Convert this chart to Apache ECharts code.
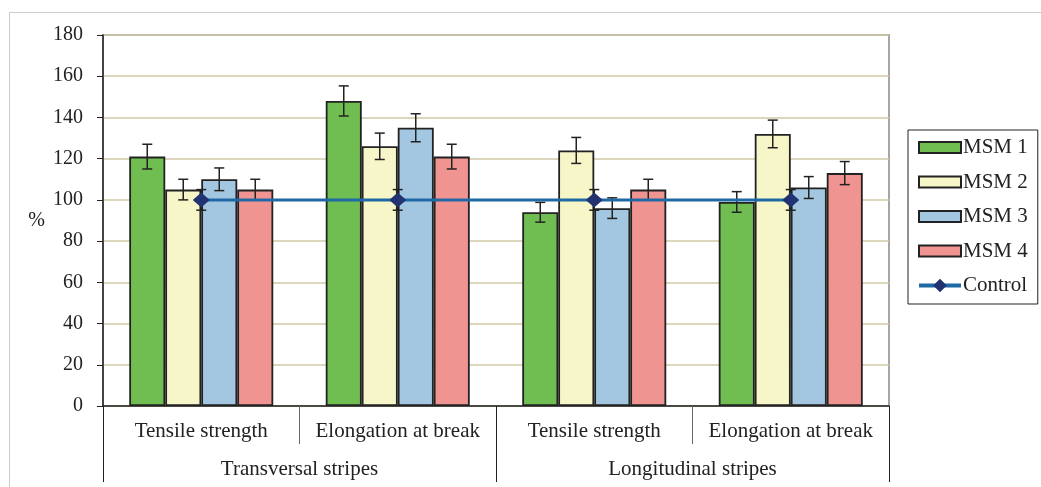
<!DOCTYPE html>
<html>
<head>
<meta charset="utf-8">
<script src="https://cdn.jsdelivr.net/npm/echarts@6/dist/echarts.min.js"></script>
<style>
  html, body { margin: 0; padding: 0; background: #fff; }
  #chart { width: 1041px; height: 487px; }
</style>
</head>
<body>
<div id="chart"></div>
<script>
// categories
const categories = ['Tensile strength', 'Elongation at break', 'Tensile strength', 'Elongation at break']
const groups = ['Transversal stripes', 'Longitudinal stripes']
const seriesNames = ['MSM 1', 'MSM 2', 'MSM 3', 'MSM 4']

// values (%) and error bar half-widths
const msm1 = [121, 148, 94, 99]
const msm2 = [105, 126, 124, 132]
const msm3 = [110, 135, 96, 106]
const msm4 = [105, 121, 105, 113]
const msm1Err = [6, 7.3, 4.8, 5]
const msm2Err = [5, 6.4, 6.3, 6.7]
const msm3Err = [5.5, 6.8, 5, 5.3]
const msm4Err = [5, 6, 5, 5.6]
const control = [100, 100, 100, 100]
const controlErr = [5, 5, 5, 5]

const barColors = ['#70be52', '#f7f6c8', '#a4c7e1', '#f09491']
const barW = 36
const font = 'Liberation Serif'
// legend box icon, kept at 42x11 inside the taller legend slot
const rectIcon = 'path://M0,0h42v11h-42z'

const chart = echarts.init(document.getElementById('chart'))

// error bars drawn as custom series, shifted onto each bar
const errorSeries = (values, errs, offset) => ({
  type: 'custom',
  z: 3,
  silent: true,
  renderItem: (params, api) => {
    const x = api.value(0)
    const v = api.value(1)
    const e = api.value(2)
    const hi = api.coord([x, v + e])
    const lo = api.coord([x, v - e])
    const cx = hi[0] + offset
    const cap = 5
    const style = { stroke: '#222', lineWidth: 1.5 }
    return {
      type: 'group',
      children: [
        { type: 'line', shape: { x1: cx, y1: hi[1], x2: cx, y2: lo[1] }, style },
        { type: 'line', shape: { x1: cx - cap, y1: hi[1], x2: cx + cap, y2: hi[1] }, style },
        { type: 'line', shape: { x1: cx - cap, y1: lo[1], x2: cx + cap, y2: lo[1] }, style }
      ]
    }
  },
  data: values.map((v, i) => [i, v, errs[i]])
})

const barValues = [msm1, msm2, msm3, msm4]
const barErrs = [msm1Err, msm2Err, msm3Err, msm4Err]

const barSeries = barValues.map((vals, i) => ({
  name: seriesNames[i],
  type: 'bar',
  barWidth: barW,
  barGap: '0%',
  itemStyle: {
    color: barColors[i],
    borderColor: '#222',
    borderWidth: 1.8
  },
  data: vals
}))

const option = {
  backgroundColor: '#fff',
  animation: false,
  textStyle: { fontFamily: font },
  graphic: [
    {
      type: 'polyline',
      shape: { points: [[9.5, 487], [9.5, 12.5], [1041, 12.5]] },
      style: { stroke: '#cccccc', lineWidth: 1, fill: null }
    }
  ],
  legend: {
    orient: 'vertical',
    left: 908,
    top: 130,
    padding: [7, 10, 8, 9],
    itemGap: 13.5,
    itemWidth: 42,
    itemHeight: 17,
    borderColor: '#222',
    borderWidth: 1,
    textStyle: { fontFamily: font, fontSize: 21, color: '#222', lineHeight: 20, padding: [0, 0, 0, -3] },
    data: [
      { name: 'MSM 1', icon: rectIcon },
      { name: 'MSM 2', icon: rectIcon },
      { name: 'MSM 3', icon: rectIcon },
      { name: 'MSM 4', icon: rectIcon },
      { name: 'Control', lineStyle: { width: 4, color: '#1f6aa5' } }
    ]
  },
  grid: {
    left: 103,
    right: 152,
    top: 35,
    bottom: 81,
    show: true,
    borderColor: '#a6a6a6',
    borderWidth: 2
  },
  xAxis: [
    {
      type: 'category',
      position: 'bottom',
      data: categories,
      axisLine: { lineStyle: { color: '#222', width: 1.5 } },
      axisTick: { show: true, interval: 0, length: 38, lineStyle: { color: '#666', width: 1 } },
      axisLabel: { interval: 0, margin: 15, fontFamily: font, fontSize: 21, color: '#222' }
    },
    {
      type: 'category',
      position: 'bottom',
      offset: 0,
      data: groups,
      axisLine: { show: false },
      axisTick: { show: true, interval: 0, length: 76, lineStyle: { color: '#222', width: 1 } },
      axisLabel: { interval: 0, margin: 53, fontFamily: font, fontSize: 21, color: '#222' }
    }
  ],
  yAxis: {
    type: 'value',
    min: 0,
    max: 180,
    interval: 20,
    name: '%',
    nameLocation: 'middle',
    nameRotate: 0,
    nameGap: 58,
    nameTextStyle: { fontFamily: font, fontSize: 20, color: '#222', padding: [10, 0, 0, 0] },
    axisLine: { show: true, lineStyle: { color: '#222', width: 1.5 } },
    axisTick: { show: true, inside: false, length: 6, lineStyle: { color: '#222' } },
    axisLabel: { margin: 20, fontFamily: font, fontSize: 20, color: '#222' },
    splitLine: { lineStyle: { color: '#cfc9a6', width: 1.5 } }
  },
  series: [
    ...barSeries,
    ...barValues.map((vals, i) => errorSeries(vals, barErrs[i], (i - 1.5) * barW)),
    errorSeries(control, controlErr, 0),
    {
      name: 'Control',
      type: 'line',
      z: 5,
      symbol: 'diamond',
      symbolSize: [17, 15],
      lineStyle: { color: '#1f6aa5', width: 3 },
      itemStyle: { color: '#223372' },
      data: control
    }
  ]
}

chart.setOption(option)
</script>
</body>
</html>
